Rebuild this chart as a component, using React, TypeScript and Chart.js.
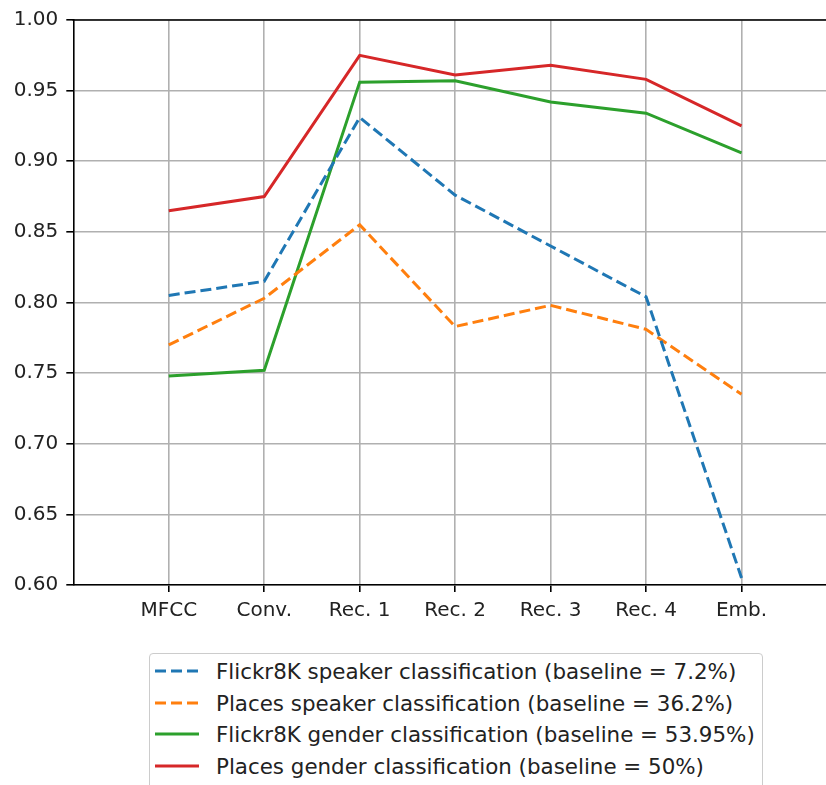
import React, { useEffect, useRef } from "react";
import { Chart, registerables } from "chart.js";

Chart.register(...registerables);

const categories = ["MFCC", "Conv.", "Rec. 1", "Rec. 2", "Rec. 3", "Rec. 4", "Emb."];
const flickrSpeaker = [0.805, 0.815, 0.931, 0.876, 0.840, 0.804, 0.605];
const placesSpeaker = [0.770, 0.803, 0.855, 0.783, 0.798, 0.781, 0.735];
const flickrGender = [0.748, 0.752, 0.956, 0.957, 0.942, 0.934, 0.906];
const placesGender = [0.865, 0.875, 0.975, 0.961, 0.968, 0.958, 0.925];
const yTicks = [0.6, 0.65, 0.7, 0.75, 0.8, 0.85, 0.9, 0.95, 1.0];

const seriesLabels = [
  "Flickr8K speaker classification (baseline = 7.2%)",
  "Places speaker classification (baseline = 36.2%)",
  "Flickr8K gender classification (baseline = 53.95%)",
  "Places gender classification (baseline = 50%)",
];
const seriesColors = ["#1f77b4", "#ff7f0e", "#2ca02c", "#d62728"];
const seriesDashed = [true, true, false, false];
const seriesValues = [flickrSpeaker, placesSpeaker, flickrGender, placesGender];

const FONT = "'DejaVu Sans', sans-serif";
const TEXT = "#222";
const DASH = [11, 5];

const W = 900;
const H = 640;
const LEFT = 73.3;
const TOP = 16.7;
const RIGHT = 837;
const BOTTOM = 585;

const spinePlugin = {
  id: "spines",
  afterDatasetsDraw(chart: any) {
    const { ctx, chartArea } = chart;
    ctx.save();
    ctx.strokeStyle = "#000";
    ctx.lineWidth = 1.6;
    ctx.beginPath();
    ctx.moveTo(chartArea.left - 0.8, chartArea.top);
    ctx.lineTo(chartArea.right, chartArea.top);
    ctx.moveTo(chartArea.right, chartArea.top);
    ctx.lineTo(chartArea.right, chartArea.bottom);
    ctx.stroke();
    ctx.restore();
  },
};

export default function App() {
  const ref = useRef<HTMLCanvasElement | null>(null);

  useEffect(() => {
    if (!ref.current) return;
    const chart = new Chart(ref.current, {
      type: "line",
      data: {
        datasets: seriesValues.map((vals, i) => ({
          label: seriesLabels[i],
          data: vals.map((v, j) => ({ x: j, y: v })),
          borderColor: seriesColors[i],
          backgroundColor: seriesColors[i],
          borderWidth: 3,
          borderDash: seriesDashed[i] ? DASH : [],
          pointRadius: 0,
          tension: 0,
          fill: false,
        })),
      },
      options: {
        responsive: false,
        animation: false,
        devicePixelRatio: 1,
        layout: { padding: { left: 0, top: TOP, right: W - RIGHT, bottom: 0 } },
        plugins: { legend: { display: false }, tooltip: { enabled: false } },
        scales: {
          x: {
            type: "linear",
            min: -1,
            max: 7,
            afterBuildTicks: (scale: any) => {
              scale.ticks = categories.map((_, i) => ({ value: i }));
            },
            afterFit: (scale: any) => {
              scale.height = H - BOTTOM;
            },
            ticks: {
              autoSkip: false,
              maxRotation: 0,
              padding: 7,
              color: TEXT,
              font: { family: FONT, size: 20 },
              callback: (v: any) => categories[v] ?? "",
            },
            grid: {
              color: "#b0b0b0",
              lineWidth: 1.6,
              tickColor: "#000",
              tickLength: 7,
              tickWidth: 1.6,
            },
            border: { color: "#000", width: 1.6 },
          },
          y: {
            min: 0.6,
            max: 1.0,
            afterBuildTicks: (scale: any) => {
              scale.ticks = yTicks.map((v) => ({ value: v }));
            },
            afterFit: (scale: any) => {
              scale.width = LEFT;
            },
            ticks: {
              padding: 8,
              color: TEXT,
              font: { family: FONT, size: 20 },
              callback: (v: any) => Number(v).toFixed(2),
            },
            grid: {
              color: "#b0b0b0",
              lineWidth: 1.6,
              tickColor: "#000",
              tickLength: 7,
              tickWidth: 1.6,
            },
            border: { color: "#000", width: 1.6 },
          },
        },
      },
      plugins: [spinePlugin],
    } as any);
    return () => chart.destroy();
  }, []);

  const rowTops = [660, 691.7, 723.3, 755];

  return (
    <div
      style={{
        position: "fixed",
        left: 0,
        top: 0,
        width: 826,
        height: 785,
        overflow: "hidden",
        background: "#fff",
      }}
    >
      <canvas
        ref={ref}
        width={W}
        height={H}
        style={{ position: "absolute", left: 0, top: 0, width: W, height: H }}
      />
      <div
        style={{
          position: "absolute",
          left: 149.3,
          top: 653.3,
          width: 613.4,
          height: 150,
          border: "1.4px solid #cccccc",
          borderRadius: 4,
          boxSizing: "border-box",
          background: "#fff",
        }}
      />
      {seriesLabels.map((label, i) => (
        <div
          key={label}
          style={{
            position: "absolute",
            left: 155,
            top: rowTops[i],
            height: 24,
            display: "flex",
            alignItems: "center",
            whiteSpace: "nowrap",
          }}
        >
          <svg width={44} height={24} style={{ display: "block" }}>
            <line
              x1={0}
              y1={11}
              x2={44}
              y2={11}
              stroke={seriesColors[i]}
              strokeWidth={3}
              strokeDasharray={seriesDashed[i] ? DASH.join(" ") : undefined}
            />
          </svg>
          <span
            style={{
              marginLeft: 17,
              fontFamily: FONT,
              fontSize: 21.4,
              lineHeight: "24px",
              color: TEXT,
            }}
          >
            {label}
          </span>
        </div>
      ))}
    </div>
  );
}
